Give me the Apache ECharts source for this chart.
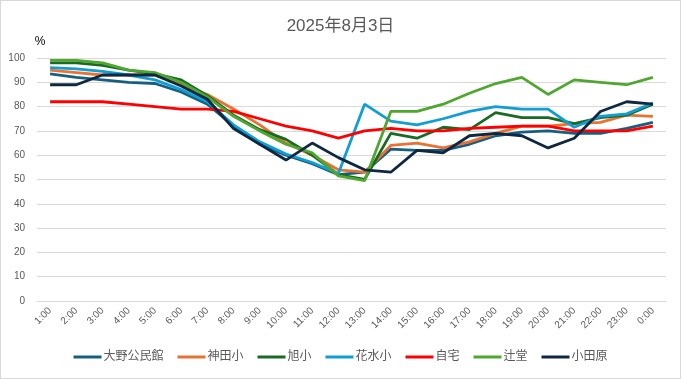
<!DOCTYPE html>
<html>
<head>
<meta charset="utf-8">
<script src="https://cdn.jsdelivr.net/npm/echarts@6/dist/echarts.min.js"></script>
<style>
html,body{margin:0;padding:0;background:#fff;}
#c{width:681px;height:379px;box-sizing:border-box;border:1px solid #d9d9d9;}
</style>
</head>
<body>
<div id="c"></div>
<script>
var title = '2025年8月3日';
var categories = ['1:00','2:00','3:00','4:00','5:00','6:00','7:00','8:00','9:00','10:00','11:00','12:00','13:00','14:00','15:00','16:00','17:00','18:00','19:00','20:00','21:00','22:00','23:00','0:00'];
var seriesNames = ['大野公民館','神田小','旭小','花水小','自宅','辻堂','小田原'];
var ono      = [93.5,92,91,90,89.5,86,81,72,64.5,60,56.5,52,53,62.5,62,62,64.5,68,69.5,70,69,69,71,73.5];
var kanda    = [95,94,93,93,93,89,85,79,72.5,65,60,54,53,64,65,63,65.5,69,72,72,73,73.5,76.5,76];
var asahi    = [98,98,97,95,93.5,91,84.5,76.5,70.5,66.5,60,52,50,69,67,71.5,70.5,77.5,75.5,75.5,73,75.5,76.5,81];
var hanamizu = [96,95.5,94.5,93,91,87,82,72.5,65.5,60.5,57,52.5,81,74,72.5,75,78,80,79,79,71.5,76,77,81.5];
var jitaku   = [82,82,82,81,80,79,79,78,75,72,70,67,70,71,70,70,71,71.5,72,72,70,70,70,72];
var tsujido  = [99,99,98,95,94,90,84,76,70,64.5,61,51.5,49.5,78,78,81,85.5,89.5,92,85,91,90,89,92];
var odawara  = [89,89,93,93,93,88.5,83,71,64.5,58,65,59,54,53,62,61,68,69,68,63,67,78,82,81];
var colors = ['#156082','#e97132','#196b24','#0f9ed5','#ff0000','#4ea72e','#0e2841'];
var values = [ono,kanda,asahi,hanamizu,jitaku,tsujido,odawara];

var font = '"Liberation Sans","Noto Sans CJK JP",sans-serif';
var chart = echarts.init(document.getElementById('c'), null, {renderer:'canvas'});
chart.setOption({
  animation:false,
  color: colors,
  textStyle:{fontFamily:font},
  title:{text:title,left:'center',top:12,textStyle:{fontSize:17,fontWeight:'normal',color:'#595959',fontFamily:font}},
  grid:{left:36,right:14,top:57,bottom:77,containLabel:false},
  legend:{
    bottom:10,left:'center',
    icon:'rect',itemWidth:28,itemHeight:3,itemGap:14,
    textStyle:{fontSize:12,color:'#595959',fontFamily:font,padding:[0,0,0,-3]},
    data:seriesNames
  },
  xAxis:{
    type:'category',data:categories,boundaryGap:true,
    axisLine:{show:true,lineStyle:{color:'#d9d9d9'}},
    axisTick:{show:false},
    axisLabel:{rotate:45,fontSize:10,color:'#595959',interval:0,margin:8}
  },
  yAxis:{
    type:'value',min:0,max:100,interval:10,
    name:'%',nameGap:10,
    nameTextStyle:{fontSize:12,color:'#000',padding:[0,0,0,6]},
    axisLine:{show:false},axisTick:{show:false},
    axisLabel:{fontSize:10,color:'#595959',margin:12},
    splitLine:{lineStyle:{color:'#d9d9d9',width:1}}
  },
  series: seriesNames.map(function(n,i){
    return {name:n,type:'line',data:values[i],showSymbol:false,symbol:'none',
      lineStyle:{width:2.8,color:colors[i]},itemStyle:{color:colors[i]}};
  })
});
</script>
</body>
</html>
